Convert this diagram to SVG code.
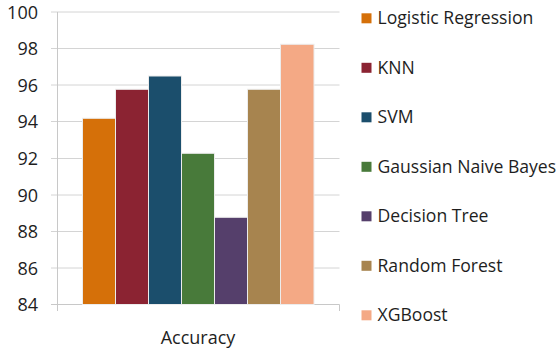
<svg xmlns="http://www.w3.org/2000/svg" width="560" height="352" viewBox="0 0 560 352">
<style>
.grid{stroke:#d4d4d4;stroke-width:1;fill:none}
.axis{stroke:#c8c8c8;stroke-width:1;fill:none}
.bar{stroke:#ececec;stroke-width:1}
text{font-family:"Open Sans","Liberation Sans",sans-serif;fill:#1e1e1e}
.tick{font-size:18px;text-anchor:end}
.leg{font-size:17.6px}
</style>
<rect width="560" height="352" fill="#ffffff"/>
<g id="gridlines">
<line class="grid" x1="51" y1="12" x2="339.5" y2="12"/>
<line class="grid" x1="51" y1="48.5" x2="339.5" y2="48.5"/>
<line class="grid" x1="51" y1="85" x2="339.5" y2="85"/>
<line class="grid" x1="51" y1="121.5" x2="339.5" y2="121.5"/>
<line class="grid" x1="51" y1="158.5" x2="339.5" y2="158.5"/>
<line class="grid" x1="51" y1="195" x2="339.5" y2="195"/>
<line class="grid" x1="51" y1="231.5" x2="339.5" y2="231.5"/>
<line class="grid" x1="51" y1="268" x2="339.5" y2="268"/>
</g>
<g id="axes">
<line class="axis" x1="57.5" y1="12" x2="57.5" y2="311"/>
<line class="axis" x1="51" y1="304.5" x2="339.5" y2="304.5"/>
<line class="axis" x1="339.5" y1="304.5" x2="339.5" y2="311"/>
</g>
<g id="y-labels">
<text class="tick" x="38" y="18.5">100</text>
<text class="tick" x="38" y="55">98</text>
<text class="tick" x="38" y="91.5">96</text>
<text class="tick" x="38" y="128">94</text>
<text class="tick" x="38" y="165">92</text>
<text class="tick" x="38" y="201.5">90</text>
<text class="tick" x="38" y="238">88</text>
<text class="tick" x="38" y="274.5">86</text>
<text class="tick" x="38" y="311">84</text>
</g>
<g id="bars">
<rect id="bar-lr" class="bar" x="82.5" y="118.3" width="33" height="186.2" fill="#D57009"/>
<rect id="bar-knn" class="bar" x="115.5" y="89.3" width="33" height="215.2" fill="#8B2332"/>
<rect id="bar-svm" class="bar" x="148.5" y="76" width="33" height="228.5" fill="#1B4E6C"/>
<rect id="bar-gnb" class="bar" x="181.5" y="153.3" width="33" height="151.2" fill="#487A3A"/>
<rect id="bar-dt" class="bar" x="214.5" y="217.3" width="33" height="87.2" fill="#553F6B"/>
<rect id="bar-rf" class="bar" x="247.5" y="89.3" width="33" height="215.2" fill="#A7844F"/>
<rect id="bar-xgb" class="bar" x="280.5" y="44.3" width="33.5" height="260.2" fill="#F4A985"/>
</g>
<text x="198" y="344" font-size="18" text-anchor="middle">Accuracy</text>
<g id="legend">
<g id="leg-lr"><rect x="361.5" y="13.3" width="10" height="10" fill="#D57009"/><text class="leg" x="377.5" y="24.3">Logistic Regression</text></g>
<g id="leg-knn"><rect x="361.5" y="62.8" width="10" height="10" fill="#8B2332"/><text class="leg" x="377.5" y="73.8">KNN</text></g>
<g id="leg-svm"><rect x="361.5" y="112.3" width="10" height="10" fill="#1B4E6C"/><text class="leg" x="377.5" y="123.3">SVM</text></g>
<g id="leg-gnb"><rect x="361.5" y="161.8" width="10" height="10" fill="#487A3A"/><text class="leg" x="377.5" y="172.8">Gaussian Naive Bayes</text></g>
<g id="leg-dt"><rect x="361.5" y="211.3" width="10" height="10" fill="#553F6B"/><text class="leg" x="377.5" y="222.3">Decision Tree</text></g>
<g id="leg-rf"><rect x="361.5" y="260.8" width="10" height="10" fill="#A7844F"/><text class="leg" x="377.5" y="271.8">Random Forest</text></g>
<g id="leg-xgb"><rect x="361.5" y="310.3" width="10" height="10" fill="#F4A985"/><text class="leg" x="377.5" y="321.3">XGBoost</text></g>
</g>
</svg>
